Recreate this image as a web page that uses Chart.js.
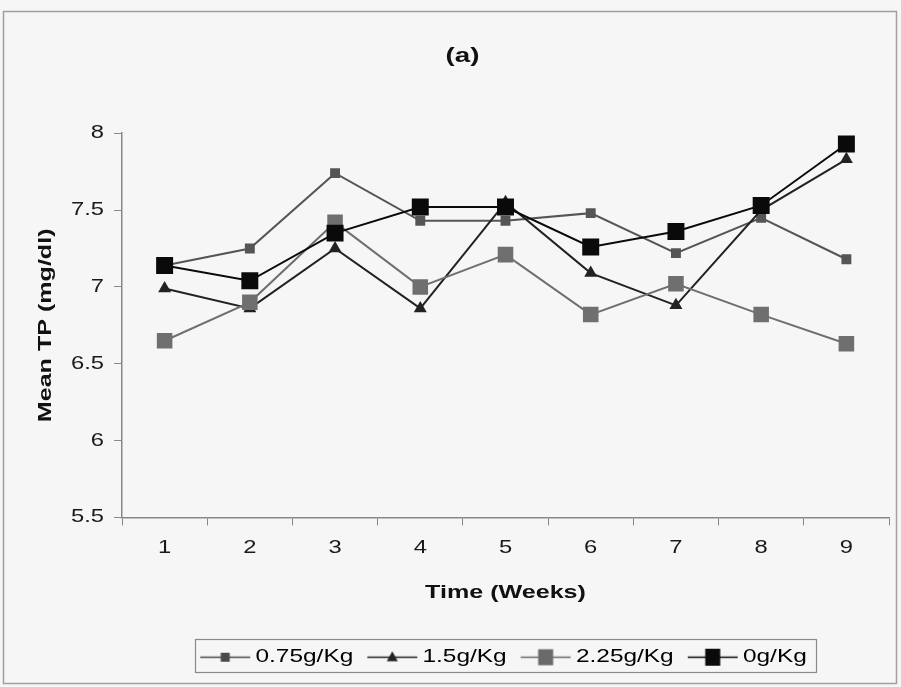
<!DOCTYPE html>
<html>
<head>
<meta charset="utf-8">
<title>Mean TP (a)</title>
<script src="https://cdn.jsdelivr.net/npm/chart.js@4/dist/chart.umd.min.js"></script>
<style>
  html, body { margin: 0; padding: 0; background: #f6f6f6; }
  canvas { display: block; }
</style>
</head>
<body>
<canvas id="tp" width="901" height="687"></canvas>
<script>
// weekly mean total protein per dose group
const weeks = ['1', '2', '3', '4', '5', '6', '7', '8', '9'];
const tp075 = [7.14, 7.25, 7.74, 7.43, 7.43, 7.48, 7.22, 7.45, 7.18];
const tp15  = [6.99, 6.86, 7.25, 6.86, 7.55, 7.09, 6.88, 7.50, 7.83];
const tp225 = [6.65, 6.90, 7.42, 7.00, 7.21, 6.82, 7.02, 6.82, 6.63];
const tp0   = [7.14, 7.04, 7.35, 7.52, 7.52, 7.26, 7.36, 7.53, 7.93];
const yTicks = [5.5, 6, 6.5, 7, 7.5, 8];

const FONT = "'Liberation Sans', Arial, sans-serif";
Chart.defaults.font.family = FONT;
Chart.defaults.color = '#1a1a1a';

// the lettering in this figure is set wide: stretch every string
// horizontally around its anchor, and report the wider width to layout
const TEXT_SX = 1.32;
function widenText(ctx) {
  const fill = ctx.fillText.bind(ctx);
  const measure = ctx.measureText.bind(ctx);
  ctx.fillText = (s, x, y, w) => {
    ctx.save();
    ctx.translate(x, y);
    ctx.scale(TEXT_SX, 1);
    fill(s, 0, 0, w ? w / TEXT_SX : undefined);
    ctx.restore();
  };
  ctx.measureText = (s) => {
    const m = measure(s);
    return {
      width: m.width * TEXT_SX,
      actualBoundingBoxAscent: m.actualBoundingBoxAscent,
      actualBoundingBoxDescent: m.actualBoundingBoxDescent,
    };
  };
}

/* "line through marker" icon for the legend; the line runs 2..52 */
function legendIcon(shape, w, h, color) {
  const c = document.createElement('canvas');
  c.width = 54; c.height = 22;
  const g = c.getContext('2d');
  const cy = 11.5;
  g.strokeStyle = color; g.fillStyle = color; g.lineWidth = 1.6;
  g.beginPath(); g.moveTo(2, cy); g.lineTo(52, cy); g.stroke();
  if (shape === 'triangle') {
    g.beginPath();
    g.moveTo(27, cy - h * 0.6);
    g.lineTo(27 + w / 2, cy + h * 0.4);
    g.lineTo(27 - w / 2, cy + h * 0.4);
    g.closePath(); g.fill();
  } else {
    g.fillRect(27 - w / 2, cy - h / 2, w, h);
  }
  return c;
}

function series(label, data, color, shape, radius, order, icon) {
  return {
    label, data, order,
    borderColor: color,
    backgroundColor: color,
    pointBackgroundColor: color,
    pointBorderColor: color,
    borderWidth: 2,
    pointStyle: shape,
    pointRadius: radius,
    pointBorderWidth: 0,
    tension: 0,
    legendIcon: icon,
  };
}

const pageFrame = {
  id: 'pageFrame',
  beforeDraw(chart) {
    const g = chart.ctx;
    g.save();
    g.fillStyle = '#f6f6f6';
    g.fillRect(0, 0, chart.width, chart.height);
    g.strokeStyle = '#a0a0a0';
    g.lineWidth = 1.5;
    g.strokeRect(3.5, 11.5, 893, 672);
    g.restore();
  },
};

// box around the legend row
const legendBox = {
  id: 'legendBox',
  afterDraw(chart) {
    const boxes = chart.legend.legendHitBoxes;
    if (!boxes.length) return;
    const l = Math.min(...boxes.map(b => b.left)) - 9;
    const r = Math.max(...boxes.map(b => b.left + b.width)) + 9;
    const mid = boxes[0].top + boxes[0].height / 2;
    const g = chart.ctx;
    g.save();
    g.strokeStyle = '#8a8a8a';
    g.lineWidth = 1.2;
    g.strokeRect(Math.round(l) + 0.5, Math.round(mid - 18) + 0.5, Math.round(r - l), 33);
    g.restore();
  },
};

const canvas = document.getElementById('tp');
widenText(canvas.getContext('2d'));

new Chart(canvas, {
  type: 'line',
  data: {
    labels: weeks,
    datasets: [
      series('0.75g/Kg', tp075, '#555555', 'rect', 7, 4, legendIcon('rect', 9, 9, '#4a4a4a')),
      series('1.5g/Kg', tp15, '#222222', 'triangle', 7.5, 3, legendIcon('triangle', 11, 10, '#222222')),
      series('2.25g/Kg', tp225, '#6f6f6f', 'rect', 11, 2, legendIcon('rect', 15, 16, '#6a6a6a')),
      series('0g/Kg', tp0, '#0a0a0a', 'rect', 12, 1, legendIcon('rect', 15, 17, '#0a0a0a')),
    ],
  },
  options: {
    responsive: false,
    animation: false,
    layout: { padding: { left: 30, right: 6, top: 0, bottom: 11 } },
    plugins: {
      title: {
        display: true,
        text: '(a)',
        font: { size: 21, weight: 'bold' },
        color: '#111',
        padding: { top: 44, bottom: 64 },
      },
      legend: {
        position: 'bottom',
        fullSize: false,
        labels: {
          usePointStyle: true,
          pointStyleWidth: 42,
          font: { size: 18.5 },
          color: '#1a1a1a',
          padding: 18,
          sort: (a, b) => a.datasetIndex - b.datasetIndex,
          generateLabels(chart) {
            return chart.data.datasets.map((ds, i) => ({
              text: ds.label,
              pointStyle: ds.legendIcon,
              fillStyle: ds.backgroundColor,
              strokeStyle: ds.borderColor,
              lineWidth: 0,
              hidden: false,
              datasetIndex: i,
            }));
          },
        },
      },
      tooltip: { enabled: false },
    },
    scales: {
      x: {
        offset: true,
        grid: { offset: true, drawOnChartArea: false, tickLength: 8, color: '#888', lineWidth: 1 },
        border: { color: '#888', width: 1.5 },
        ticks: { font: { size: 18 }, color: '#1a1a1a', padding: 12 },
        title: {
          display: true, text: 'Time (Weeks)',
          font: { size: 19, weight: 'bold' }, color: '#111',
          padding: { top: 12, bottom: 25 },
        },
        afterFit(s) { s.height = 112; },
      },
      y: {
        min: 5.5,
        max: 8,
        afterBuildTicks(s) { s.ticks = yTicks.map(v => ({ value: v })); },
        grid: { drawOnChartArea: false, tickLength: 8, color: '#888', lineWidth: 1 },
        border: { color: '#888', width: 1.5 },
        ticks: { font: { size: 18 }, color: '#1a1a1a', padding: 10, callback: v => String(v) },
        title: {
          display: true, text: 'Mean TP (mg/dl)',
          font: { size: 19, weight: 'bold' }, color: '#111', padding: 4,
        },
        afterFit(s) { s.width = 92; },
      },
    },
  },
  plugins: [pageFrame, legendBox],
});
</script>
</body>
</html>
